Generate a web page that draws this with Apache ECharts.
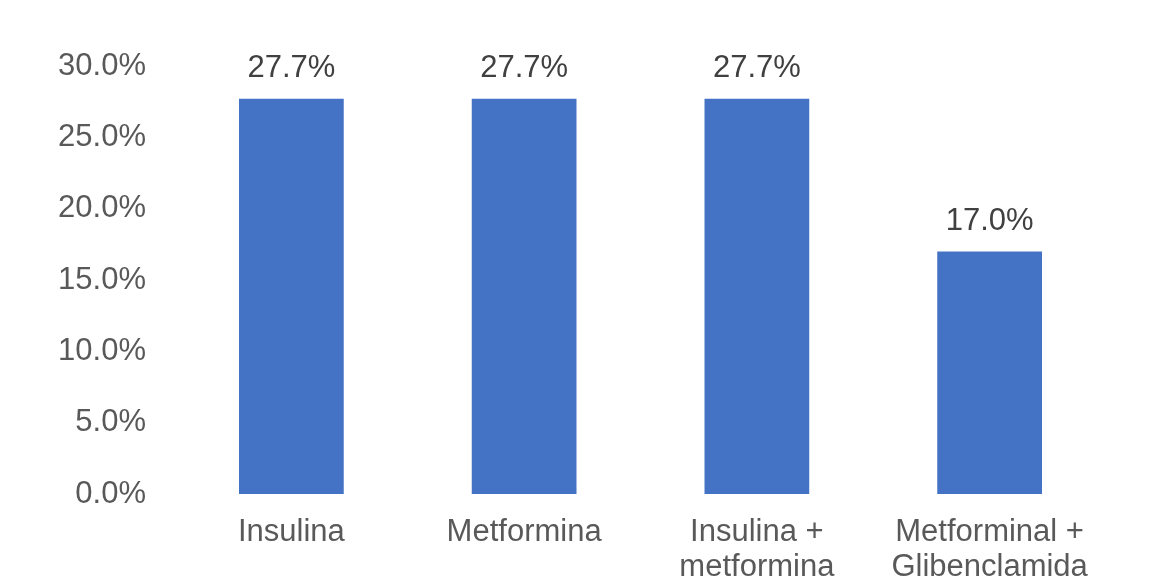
<!DOCTYPE html>
<html>
<head>
<meta charset="utf-8">
<script src="https://cdn.jsdelivr.net/npm/echarts@6/dist/echarts.min.js"></script>
<style>html,body{margin:0;padding:0;background:#fff}#c{width:1151px;height:586px}</style>
</head>
<body>
<div id="c"></div>
<script>
const categories = ["Insulina", "Metformina", "Insulina +\nmetformina", "Metforminal +\nGlibenclamida"];
const values = [27.7, 27.7, 27.7, 17.0];
const yTicks = { min: 0, max: 30, interval: 5 };

const chart = echarts.init(document.getElementById('c'));
chart.setOption({
  backgroundColor: '#ffffff',
  animation: false,
  grid: { left: 175, right: 45, top: 66, bottom: 92, containLabel: false },
  xAxis: {
    type: 'category',
    data: categories,
    axisLine: { show: false },
    axisTick: { show: false },
    axisLabel: { color: '#595959', fontSize: 31, fontFamily: 'Liberation Sans, Arial, sans-serif', margin: 21, lineHeight: 35, interval: 0 }
  },
  yAxis: {
    type: 'value',
    min: yTicks.min, max: yTicks.max, interval: yTicks.interval,
    splitLine: { show: false },
    axisLine: { show: false },
    axisTick: { show: false },
    axisLabel: { color: '#595959', fontSize: 31, fontFamily: 'Liberation Sans, Arial, sans-serif', margin: 29,
      formatter: v => v.toFixed(1) + '%' }
  },
  series: [{
    type: 'bar',
    data: values,
    barWidth: '45%',
    itemStyle: { color: '#4472C4' },
    label: { show: true, position: 'top', distance: 15, color: '#404040', fontSize: 31,
      fontFamily: 'Liberation Sans, Arial, sans-serif', formatter: p => p.value.toFixed(1) + '%' }
  }]
});
</script>
</body>
</html>
